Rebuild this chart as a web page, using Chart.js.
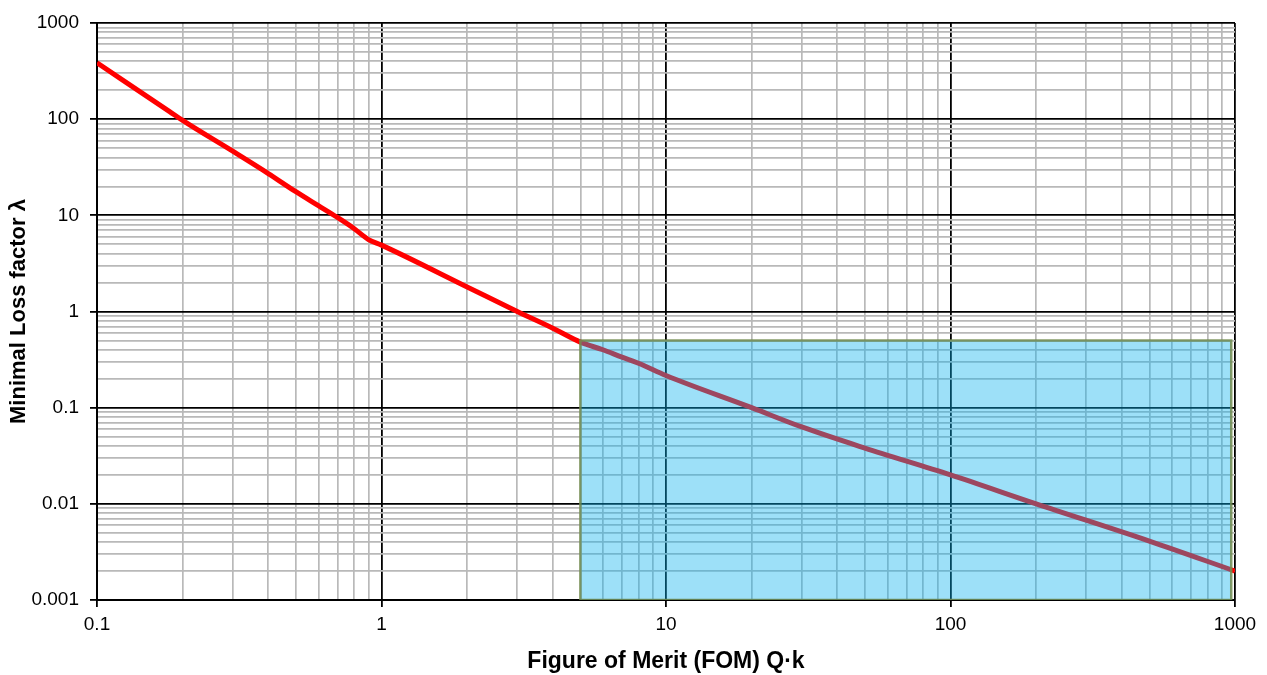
<!DOCTYPE html>
<html>
<head>
<meta charset="utf-8">
<script src="https://cdn.jsdelivr.net/npm/chart.js@4.4.1/dist/chart.umd.min.js"></script>
<style>
  html, body { margin: 0; padding: 0; background: #fff; }
  #wrap { width: 1267px; height: 675px; position: relative; }
</style>
</head>
<body>
<div id="wrap"><canvas id="fom"></canvas></div>
<script>
// values
var fomValues  = [0.1, 0.18, 0.2, 0.3, 0.4, 0.5, 0.6, 0.7, 0.8, 0.9, 1, 2, 3, 4, 5, 6, 7, 8, 10, 20, 30, 50, 100, 200, 500, 1000];
var lossValues = [385, 120, 97, 46.4, 27.2, 17.6, 12.6, 9.5, 7.3, 5.6, 4.9, 1.8, 1.0, 0.67, 0.48, 0.4, 0.335, 0.29, 0.216, 0.1, 0.063, 0.038, 0.02, 0.01, 0.0041, 0.002];

// shaded target region (corners, closed)
var regionX = [5, 5, 970, 970, 5];
var regionY = [0.001, 0.5, 0.5, 0.001, 0.001];

// tick values
var xDecades = [0.1, 1, 10, 100, 1000];
var yDecades = [0.001, 0.01, 0.1, 1, 10, 100, 1000];
var multipliers = [1, 2, 3, 4, 5, 6, 7, 8, 9];

function isDecade(v) {
    var l = Math.log10(v);
    return Math.abs(l - Math.round(l)) < 1e-9;
}

function allTicks(decades) {
    var out = [];
    decades.forEach(function(d, i) {
        if (i === decades.length - 1) { out.push(d); return; }
        multipliers.forEach(function(m) { out.push(+(d * m).toPrecision(6)); });
    });
    return out;
}

function tickLabel(v) {
    return isDecade(v) ? String(+v.toPrecision(6)) : '';
}

var xTickValues = allTicks(xDecades);
var yTickValues = allTicks(yDecades);

var font = '"Liberation Sans", Arial, sans-serif';

function gridSetup() {
    return {
        color: function(c) { return c.tick && isDecade(c.tick.value) ? '#000000' : '#b9b9b9'; },
        lineWidth: function(c) { return c.tick && isDecade(c.tick.value) ? 1.8 : 1.7; },
        tickColor: function(c) { return c.tick && isDecade(c.tick.value) ? '#000000' : 'rgba(0,0,0,0)'; },
        tickLength: 7,
        drawTicks: true
    };
}

document.addEventListener("DOMContentLoaded", function() {
    var ctx = document.getElementById('fom').getContext('2d');
    new Chart(ctx, {
        type: 'scatter',
        data: {
            datasets: [{
                // drawn on top of the red curve (first dataset is drawn last)
                label: 'region',
                data: regionX.map(function(x, i) { return { x: x, y: regionY[i] }; }),
                showLine: true,
                borderColor: 'rgba(115,140,80,0.85)',
                borderWidth: 2.5,
                backgroundColor: 'rgba(10,177,237,0.4)',
                fill: 'shape',
                pointRadius: 0,
                tension: 0
            }, {
                label: 'Minimal Loss factor',
                data: fomValues.map(function(x, i) { return { x: x, y: lossValues[i] }; }),
                showLine: true,
                borderColor: '#ff0000',
                borderWidth: 5,
                fill: false,
                pointRadius: 0,
                cubicInterpolationMode: 'monotone'
            }]
        },
        options: {
            responsive: true,
            maintainAspectRatio: false,
            animation: false,
            layout: { padding: { top: 23, right: 32, left: 0, bottom: 0 } },
            plugins: {
                legend: { display: false },
                tooltip: { enabled: false }
            },
            scales: {
                x: {
                    type: 'logarithmic',
                    min: 0.1,
                    max: 1000,
                    afterBuildTicks: function(scale) {
                        scale.ticks = xTickValues.map(function(v) { return { value: v }; });
                    },
                    afterFit: function(scale) { scale.height = 75; },
                    ticks: {
                        autoSkip: false,
                        maxRotation: 0,
                        color: '#000',
                        padding: 6,
                        font: { family: font, size: 19 },
                        callback: function(v) { return tickLabel(v); }
                    },
                    grid: gridSetup(),
                    border: { color: '#000', width: 2 },
                    title: {
                        display: true,
                        text: 'Figure of Merit (FOM) Q·k',
                        color: '#000',
                        font: { family: font, size: 23, weight: 'bold' },
                        padding: { top: 4, bottom: 0 }
                    }
                },
                y: {
                    type: 'logarithmic',
                    min: 0.001,
                    max: 1000,
                    afterBuildTicks: function(scale) {
                        scale.ticks = yTickValues.map(function(v) { return { value: v }; });
                    },
                    afterFit: function(scale) { scale.width = 97; },
                    ticks: {
                        autoSkip: false,
                        color: '#000',
                        padding: 11,
                        font: { family: font, size: 19 },
                        callback: function(v) { return tickLabel(v); }
                    },
                    grid: gridSetup(),
                    border: { color: '#000', width: 2 },
                    title: {
                        display: true,
                        text: 'Minimal Loss factor λ',
                        color: '#000',
                        font: { family: font, size: 22, weight: 'bold' },
                        padding: { top: 6, bottom: 4 }
                    }
                }
            }
        }
    });
});
</script>
</body>
</html>
